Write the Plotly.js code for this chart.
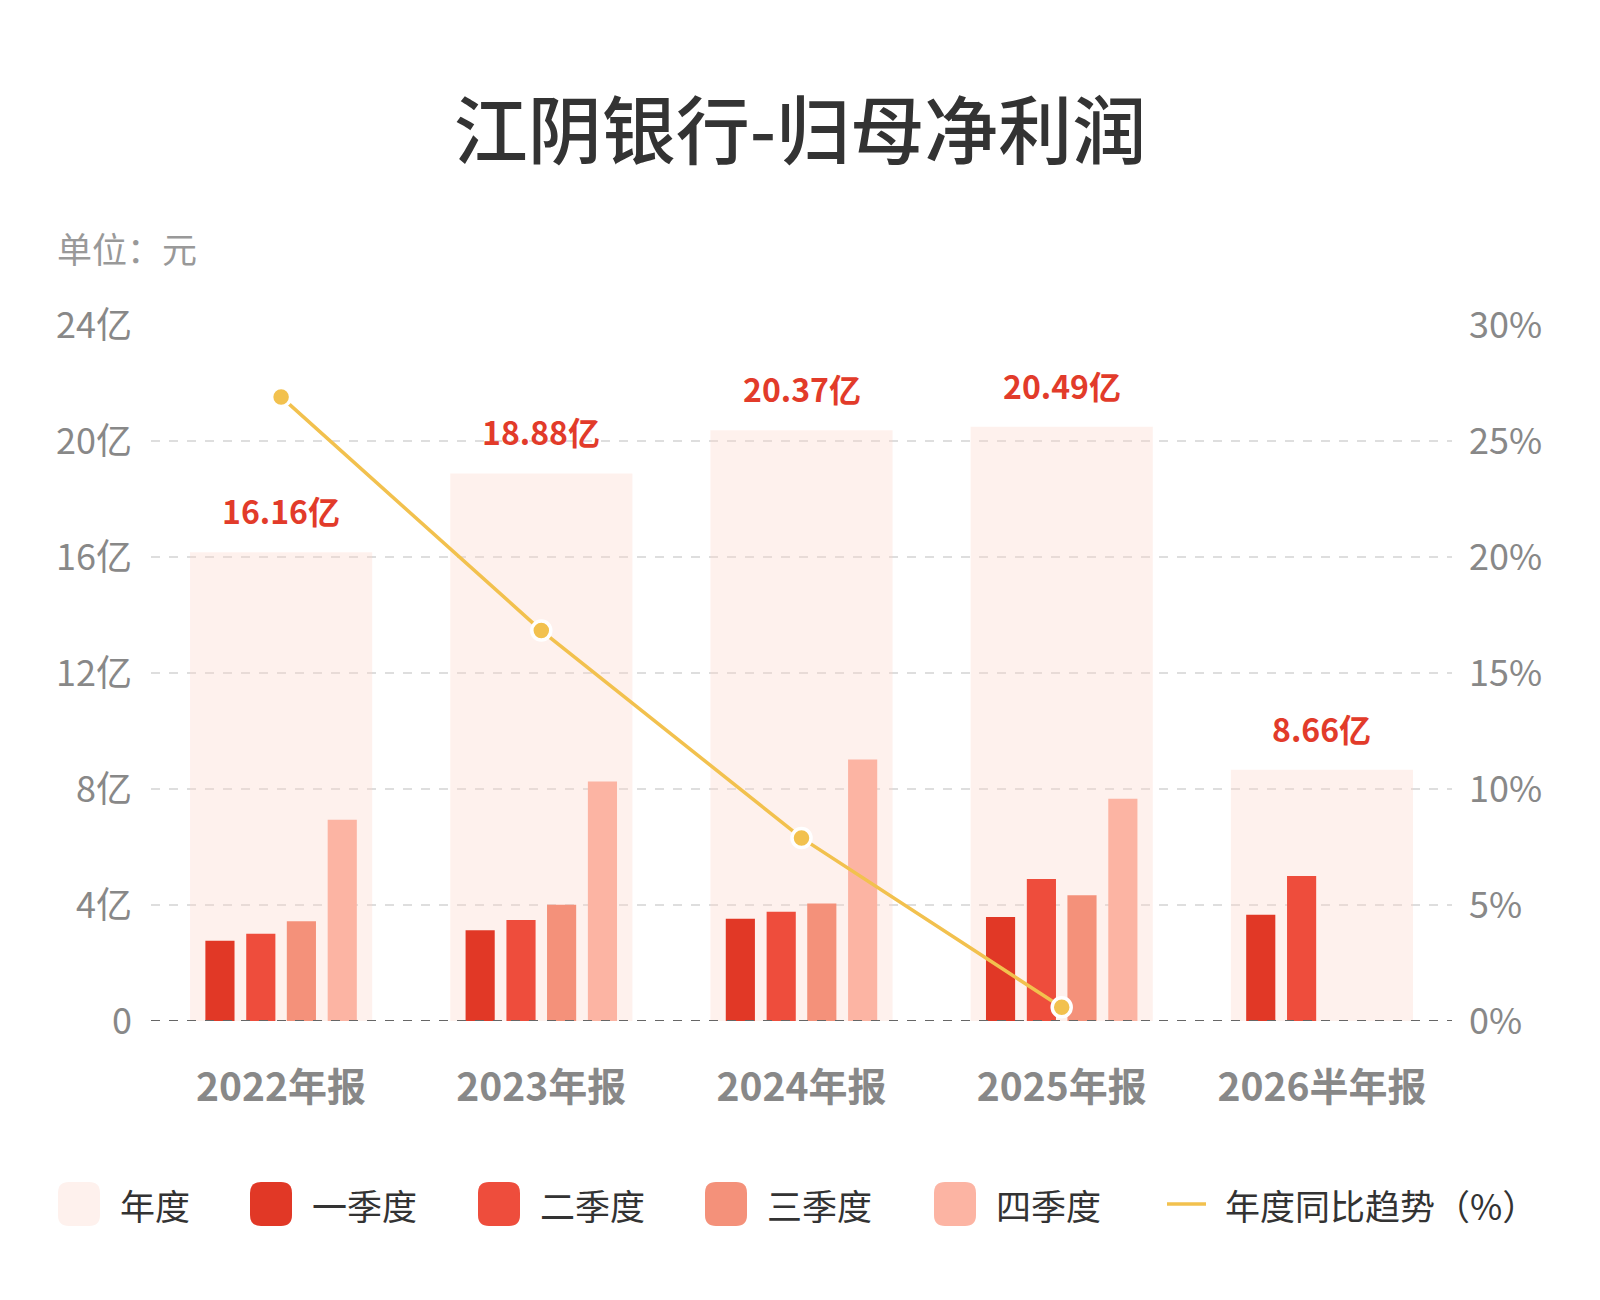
<!DOCTYPE html>
<html>
<head>
<meta charset="utf-8">
<script src="https://cdn.plot.ly/plotly-3.0.1.min.js"></script>
<style>body{margin:0;background:#fff}</style>
</head>
<body>
<div id="chart" style="width:1600px;height:1300px"></div>
<script>
// 江阴银行 归母净利润（亿元），季度值 + 年度合计 + 年度同比
var categories = ['2022年报', '2023年报', '2024年报', '2025年报', '2026半年报'];
var annual = [16.16, 18.88, 20.37, 20.49, 8.66];
var q1 = [2.77, 3.13, 3.53, 3.59, 3.66];
var q2 = [3.01, 3.48, 3.77, 4.90, 5.00];
var q3 = [3.44, 4.01, 4.05, 4.34, null];
var q4 = [6.94, 8.26, 9.02, 7.66, null];
var yoy = [26.9, 16.83, 7.89, 0.59, null];

var leftTicks = [0, 4, 8, 12, 16, 20, 24];
var leftTickText = ['0', '4亿', '8亿', '12亿', '16亿', '20亿', '24亿'];
var rightTicks = [0, 5, 10, 15, 20, 25, 30];
var rightTickText = ['0%', '5%', '10%', '15%', '20%', '25%', '30%'];

var legendLabels = ['年度', '一季度', '二季度', '三季度', '四季度', '年度同比趋势（%）'];
var colors = ['#FEF1ED', '#E13826', '#EE4D3C', '#F4917A', '#FCB4A3', '#F2C14E'];

var FONT = "'Noto Sans CJK SC', sans-serif";

// plot box in pixels
var L = 151, R = 148, T = 325, B = 279, W = 1600, H = 1300;
var PW = W - L - R, PH = H - T - B;
function px(x) { return (x - L) / PW; }
function py(y) { return (H - B - y) / PH; }

var qWidth = 0.112;
var qOffsets = [-0.291, -0.134, 0.022, 0.179];

var traces = [{
  type: 'bar', x: categories, y: annual, name: legendLabels[0],
  width: 0.7, marker: {color: 'rgba(252,214,202,0.35)'},
  hoverinfo: 'skip', showlegend: false
}];
[q1, q2, q3, q4].forEach(function (vals, i) {
  traces.push({
    type: 'bar', x: categories, y: vals, name: legendLabels[i + 1],
    width: qWidth, offset: qOffsets[i],
    marker: {color: colors[i + 1], line: {width: 0}},
    hoverinfo: 'skip', showlegend: false
  });
});
traces.push({
  type: 'scatter', mode: 'lines+markers', x: categories, y: yoy, yaxis: 'y2',
  name: legendLabels[5],
  line: {color: colors[5], width: 3.5},
  marker: {size: 19, color: colors[5], line: {color: '#fff', width: 3.5}},
  cliponaxis: false, hoverinfo: 'skip', showlegend: false
});

var annotations = categories.map(function (c, i) {
  return {
    x: c, y: annual[i], xref: 'x', yref: 'y', text: annual[i].toFixed(2) + '亿',
    showarrow: false, yanchor: 'middle', yshift: 42,
    font: {family: FONT, size: 32, color: '#E23B2A', weight: 700}
  };
});
annotations.push({
  xref: 'paper', yref: 'paper', x: px(55), y: py(247), xanchor: 'left', yanchor: 'middle',
  text: '单位：元', showarrow: false, font: {family: FONT, size: 35, color: '#999'}
});

// custom legend
var shapes = [{
  type: 'line', xref: 'paper', x0: 0, x1: 1, yref: 'y', y0: 0, y1: 0,
  line: {color: '#666', width: 2, dash: 'dash'}, layer: 'above'
}];
function roundRect(x0, y0, w, h, r) {
  var x1 = x0 + w, y1 = y0 + h;
  function p(x, y) { return px(x) + ',' + py(y); }
  return 'M' + p(x0 + r, y0) + ' L' + p(x1 - r, y0) + ' Q' + p(x1, y0) + ' ' + p(x1, y0 + r) +
    ' L' + p(x1, y1 - r) + ' Q' + p(x1, y1) + ' ' + p(x1 - r, y1) +
    ' L' + p(x0 + r, y1) + ' Q' + p(x0, y1) + ' ' + p(x0, y1 - r) +
    ' L' + p(x0, y0 + r) + ' Q' + p(x0, y0) + ' ' + p(x0 + r, y0) + ' Z';
}
var legX = [58, 250, 478, 705, 934, 1167];
var legY = 1204;
legendLabels.forEach(function (lab, i) {
  if (i < 5) {
    shapes.push({
      type: 'path', xref: 'paper', yref: 'paper',
      path: roundRect(legX[i], legY - 22, 42, 44, 11),
      fillcolor: colors[i], line: {width: 0}
    });
  } else {
    shapes.push({
      type: 'line', xref: 'paper', yref: 'paper',
      x0: px(legX[i]), x1: px(legX[i] + 39), y0: py(legY), y1: py(legY),
      line: {color: colors[i], width: 3.5}
    });
  }
  annotations.push({
    xref: 'paper', yref: 'paper', x: px(legX[i] + (i < 5 ? 60 : 56)), y: py(legY),
    xanchor: 'left', yanchor: 'middle', text: lab, showarrow: false,
    font: {family: FONT, size: 35, color: '#333'}
  });
});

var layout = {
  width: W, height: H,
  margin: {l: L, r: R, t: T, b: B},
  paper_bgcolor: '#fff', plot_bgcolor: '#fff',
  barmode: 'overlay',
  title: {
    text: '江阴银行-归母净利润', x: 0.5, xanchor: 'center',
    yref: 'container', y: 1 - 132 / H, yanchor: 'middle',
    font: {family: FONT, size: 74, color: '#333', weight: 500}
  },
  xaxis: {
    type: 'category', range: [-0.5, 4.5], showgrid: false, zeroline: false,
    showline: false, ticks: '', ticklabelstandoff: 40,
    tickfont: {family: FONT, size: 39, color: '#888', weight: 700}
  },
  yaxis: {
    range: [0, 24], tickvals: leftTicks, ticktext: leftTickText,
    showgrid: true, gridcolor: '#dedede', gridwidth: 1.5, griddash: 'dash',
    zeroline: false, showline: false, ticks: '', ticklabelstandoff: 18,
    tickfont: {family: FONT, size: 36, color: '#888'}
  },
  yaxis2: {
    overlaying: 'y', side: 'right', range: [0, 30],
    tickvals: rightTicks, ticktext: rightTickText,
    showgrid: false, zeroline: false, showline: false, ticks: '', ticklabelstandoff: 16,
    tickfont: {family: FONT, size: 36, color: '#888'}
  },
  showlegend: false,
  annotations: annotations,
  shapes: shapes
};

Plotly.newPlot('chart', traces, layout, {staticPlot: true, displayModeBar: false});
</script>
</body>
</html>
